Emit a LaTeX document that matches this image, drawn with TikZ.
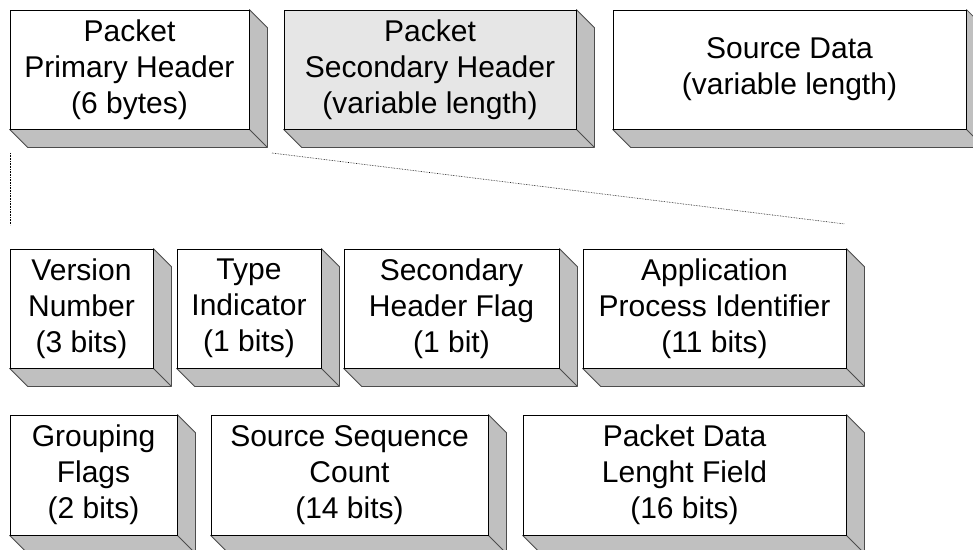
\documentclass[tikz,border=0pt]{standalone}
\usepackage{fontspec}
\setmainfont{Liberation Sans}
\definecolor{sidegray}{RGB}{192,192,192}
\definecolor{lightfill}{RGB}{230,230,230}
\tikzset{
  face/.style={draw=black, line width=0.8pt, inner sep=0pt, align=center,
    font=\fontsize{30}{36}\selectfont},
  side/.style={fill=sidegray, draw=black!70, line width=0.8pt, line join=round},
  dotline/.style={densely dotted, line width=0.6pt}
}
% \cube{name}{x1}{y1}{x2}{y2}{fill}{text}
\newcommand{\cube}[7]{%
  \node[face, fill=#6, minimum width={(#4-#2)*1pt}, minimum height={(#5-#3)*1pt}]
    (#1) at ({(#2+#4)/2},{(#3+#5)/2}) {#7};
  \filldraw[side] (#1.north east) -- ([shift={(18,18)}]#1.north east)
    -- ([shift={(18,18)}]#1.south east) -- ([shift={(18,18)}]#1.south west)
    -- (#1.south west) -- (#1.south east) -- cycle;
  \draw[side, fill=none] (#1.south east) -- ([shift={(18,18)}]#1.south east);
  \node[face, fill=#6, minimum width={(#4-#2)*1pt}, minimum height={(#5-#3)*1pt}]
    at ({(#2+#4)/2},{(#3+#5)/2}) {#7};
}
\begin{document}
\begin{tikzpicture}[x=1pt,y=-1pt]
\useasboundingbox (0,0) rectangle (973,549);
\clip (0,0) rectangle (973,549);
% top row
\cube{pph}{10}{10}{249}{129}{white}{Packet\\Primary Header\\(6 bytes)}
\cube{psh}{284}{10}{576}{129}{lightfill}{Packet\\Secondary Header\\(variable length)}
\cube{sd}{613}{10}{966}{129}{white}{Source Data\\(variable length)}
% second row
\cube{vn}{10}{249}{153}{368}{white}{Version\\Number\\(3 bits)}
\cube{ti}{177}{249}{321}{368}{white}{Type\\Indicator\\(1 bits)}
\cube{shf}{344}{249}{559}{368}{white}{Secondary\\Header Flag\\(1 bit)}
\cube{api}{583}{249}{846}{368}{white}{Application\\Process Identifier\\(11 bits)}
% third row
\cube{gf}{10}{415}{177}{535}{white}{Grouping\\Flags\\(2 bits)}
\cube{ssc}{211}{415}{488}{535}{white}{Source Sequence\\Count\\(14 bits)}
\cube{pdl}{523}{415}{846}{535}{white}{Packet Data\\Lenght Field\\(16 bits)}
% dotted expansion lines
\coordinate (d1a) at (10,153);
\coordinate (d1b) at (10,225);
\coordinate (d2a) at (272,153);
\coordinate (d2b) at (845,224);
\draw[dotline] (d1a) -- (d1b);
\draw[dotline] (d2a) -- (d2b);
\end{tikzpicture}
\end{document}
